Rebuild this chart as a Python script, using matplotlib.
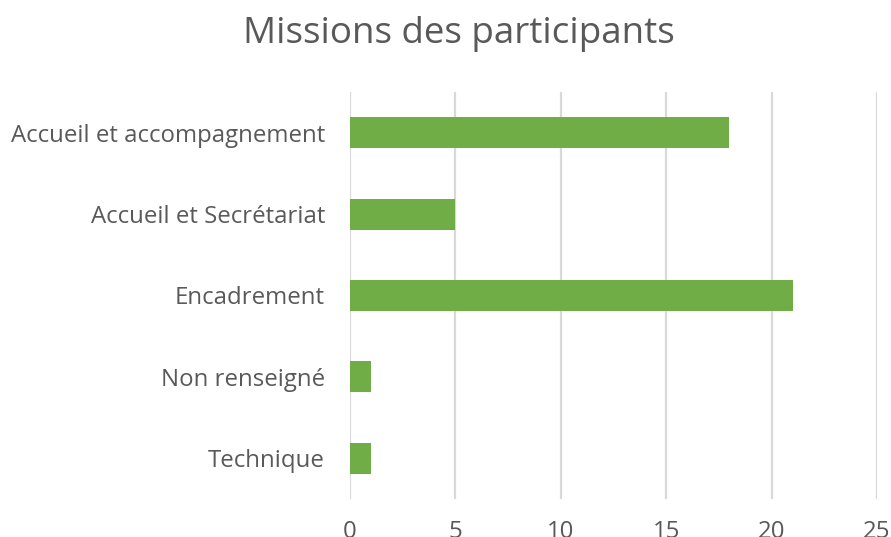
import matplotlib.pyplot as plt

categories = ['Accueil et accompagnement', 'Accueil et Secrétariat', 'Encadrement',
              'Non renseigné', 'Technique']
values = [18, 5, 21, 1, 1]
xticks = [0, 5, 10, 15, 20, 25]

plt.rcParams['font.family'] = ['Open Sans', 'DejaVu Sans']
grey = '#595959'

fig = plt.figure(figsize=(8.91, 5.37), dpi=100)
ax = fig.add_axes([350 / 891, 1 - 499 / 537, 527 / 891, 407 / 537])

pos = range(len(categories))
ax.barh(pos, values, height=0.38, color='#70AD47', zorder=3)
ax.set_ylim(len(categories) - 0.5, -0.5)
ax.set_xlim(0, 25)
ax.set_xticks(xticks)
ax.set_yticks(list(pos))
ax.set_yticklabels(categories)

ax.grid(axis='x', color='#D9D9D9', linewidth=1.6, zorder=0)
for s in ax.spines.values():
    s.set_visible(False)
ax.tick_params(axis='y', length=0, pad=18, labelsize=17.3, labelcolor=grey)
ax.tick_params(axis='x', length=0, pad=15, labelsize=17.3, labelcolor=grey)

fig.text(459 / 891, 1 - 34 / 537, 'Missions des participants', ha='center', va='center',
         fontsize=26.5, color=grey)

fig.savefig('out.png', dpi=100)
